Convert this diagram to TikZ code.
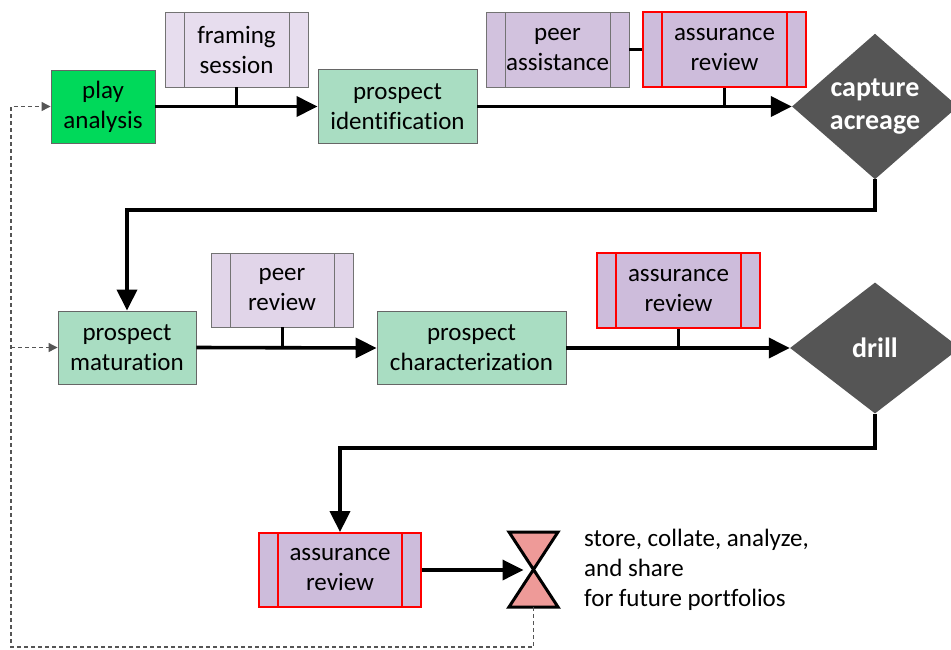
\documentclass[tikz,border=0pt]{standalone}
\usepackage{fontspec}
\setmainfont[RawFeature={-liga;-calt;-dlig}]{Carlito}
\usetikzlibrary{shapes.geometric,arrows.meta}
\definecolor{playgreen}{HTML}{00D95A}
\definecolor{mint}{HTML}{A9DDC2}
\definecolor{lavA}{HTML}{E7DDEE}
\definecolor{lavB}{HTML}{D2C2DE}
\definecolor{lavC}{HTML}{CDBCDB}
\definecolor{dgray}{HTML}{555555}
\definecolor{salmon}{HTML}{EE9A98}
\tikzset{
  x=1pt,y=-1pt,
  lbl/.style={font=\fontsize{25}{30}\selectfont, align=center, inner sep=0pt},
  task/.style={lbl, rectangle, draw=#1, line width=0.9pt},
  predef/.style n args={3}{lbl, rectangle, draw=#1, fill=#2, line width=#3,
    path picture={
      \draw[#1, line width=#3]
        ([xshift=19]path picture bounding box.north west) -- ([xshift=19]path picture bounding box.south west)
        ([xshift=-19]path picture bounding box.north east) -- ([xshift=-19]path picture bounding box.south east);
    }},
  decide/.style={diamond, fill=dgray, text=white, inner sep=0pt,
    font=\fontsize{28}{33}\selectfont\bfseries, align=center},
  flow/.style={line width=3.6pt, -{Triangle[length=21pt,width=20pt]}},
  stub/.style={line width=3pt},
  fb/.style={draw=dgray, line width=1.2pt, dash pattern=on 4pt off 3pt,
    -{Triangle[length=9pt,width=9pt]}},
}
\begin{document}
\begin{tikzpicture}
\useasboundingbox (0,0) rectangle (951,649);
% row 1
\node[task=gray!80!black, fill=playgreen, minimum width=104, minimum height=73] (play) at (103,106.5) {play\\analysis};
\node[predef={gray!90!black}{lavA}{0.9pt}, minimum width=143, minimum height=75] (framing) at (236.5,49.5) {framing\\session};
\node[task=gray!80!black, fill=mint, minimum width=159, minimum height=74] (pid) at (397.5,106.5) {prospect\\identification};
\node[predef={gray!90!black}{lavB}{0.9pt}, minimum width=143, minimum height=75] (peerA) at (557.5,49.5) {peer\\assistance};
\node[predef={red}{lavC}{1.8pt}, minimum width=163, minimum height=75] (arTop) at (724.5,49.5) {assurance\\review};
\node[decide, minimum width=166, minimum height=133] (capture) at (875,106.5) {capture\\acreage};
% row 2
\node[task=gray!80!black, fill=mint, minimum width=138, minimum height=73] (mat) at (127,347.5) {prospect\\maturation};
\node[predef={gray!90!black}{lavA!70!lavB}{0.9pt}, minimum width=142, minimum height=74] (peerR) at (282,290) {peer\\review};
\node[task=gray!80!black, fill=mint, minimum width=189, minimum height=73] (pchar) at (471.5,348) {prospect\\characterization};
\node[predef={red}{lavC}{1.8pt}, minimum width=163, minimum height=75] (arMid) at (678.5,290.5) {assurance\\review};
\node[decide, minimum width=170, minimum height=131] (drill) at (875,348) {drill};
% row 3
\node[predef={red}{lavC}{1.8pt}, minimum width=162, minimum height=74] (arBot) at (340,570) {assurance\\review};
\coordinate (hg) at (533.5,569.5);
\coordinate (hgb) at (533.5,607);
\draw[line width=3pt, fill=salmon, line join=miter]
  (hg) ++(-24.5,-37.5) -- ++(49,0) -- ++(-49,75) -- ++(49,0) -- cycle;
\node[lbl, align=left, anchor=west] (store) at (584,570) {store, collate, analyze,\\and share\\for future portfolios};
% connectors row 1
\draw[flow] (play.east) -- (pid.west);
\draw[stub] (framing.south) -- (framing.south |- play.east);
\draw[flow] (pid.east) -- (capture.west);
\draw[stub] (peerA.east) -- (arTop.west);
\draw[stub] (arTop.south) -- (arTop.south |- pid.east);
\draw[flow] (capture.south) -- (capture.south |- 0,210) -| (mat.north);
% row 2
\draw[flow] (mat.east) -- (pchar.west);
\draw[stub] (peerR.south) -- (peerR.south |- mat.east);
\draw[flow] (pchar.east) -- (drill.west);
\draw[stub] (arMid.south) -- (arMid.south |- pchar.east);
\draw[flow] (drill.south) -- (drill.south |- 0,448) -| (arBot.north);
% row 3
\draw[flow, shorten >=10pt] (arBot.east) -- (arBot.east -| hg);
% feedback
\coordinate (fbl) at (11,647);
\draw[fb] (hgb) -- (hgb |- fbl) -- (fbl) -- (fbl |- play.west) -- (play.west);
\draw[fb] (fbl |- mat.west) -- (mat.west);
\end{tikzpicture}
\end{document}
